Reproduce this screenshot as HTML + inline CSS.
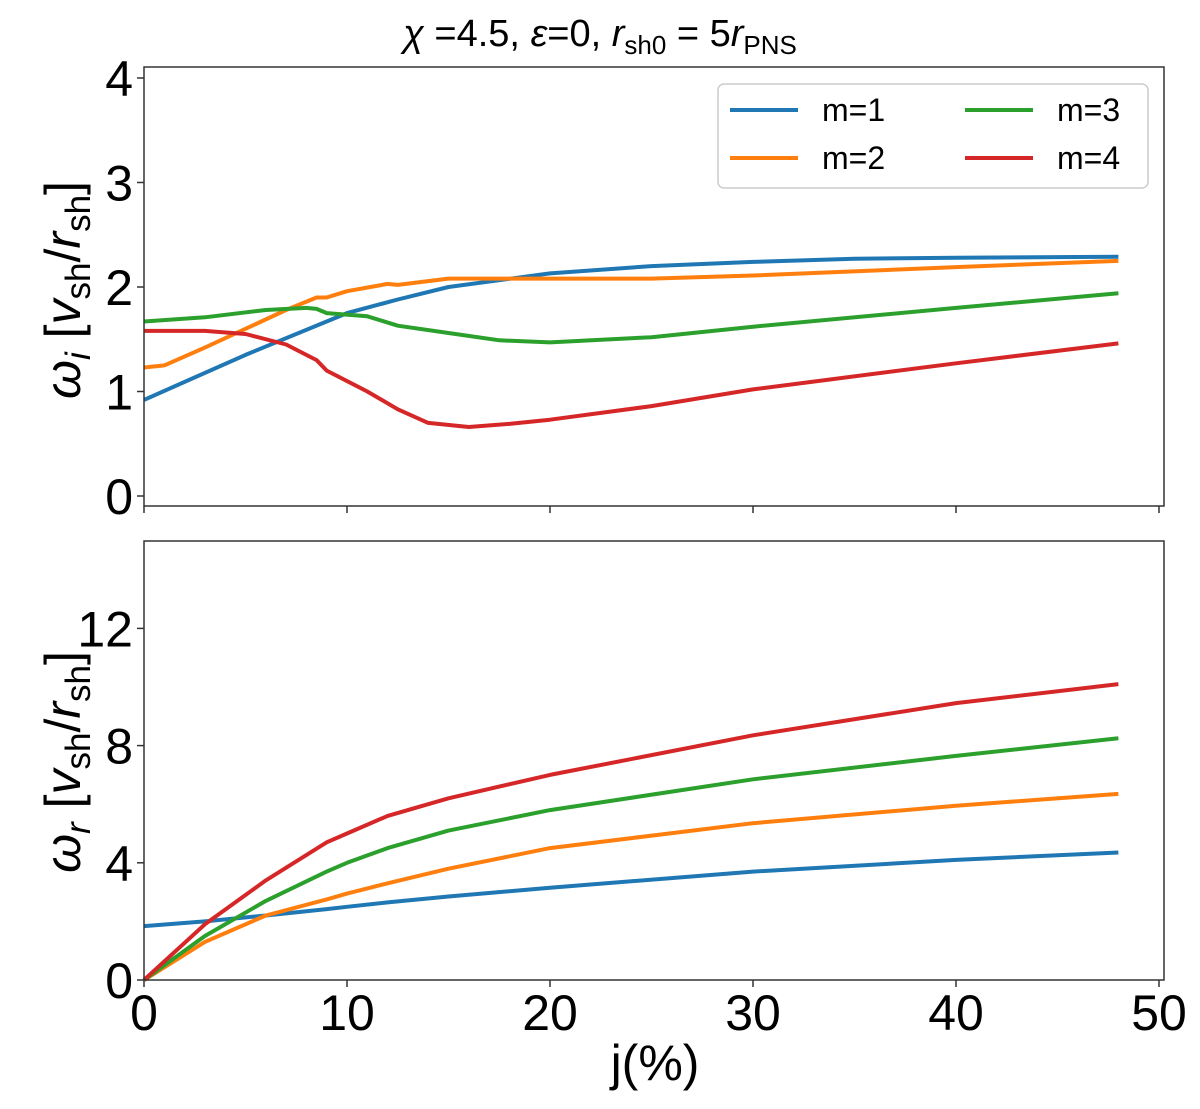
<!DOCTYPE html>
<html><head><meta charset="utf-8"><style>
body{margin:0;background:#fff}
svg{display:block;font-family:"Liberation Sans","DejaVu Sans",sans-serif}
</style></head><body>
<svg id="chart" width="1200" height="1109" viewBox="0 0 1200 1109">
<text x="600" y="46" font-size="38" text-anchor="middle"><tspan font-style="italic">χ</tspan> =4.5, <tspan font-style="italic">ε</tspan>=0, <tspan font-style="italic">r</tspan><tspan font-size="26" dy="8">sh0</tspan><tspan dy="-8"> = 5</tspan><tspan font-style="italic">r</tspan><tspan font-size="26" dy="8">PNS</tspan></text>
<g id="top"></g>
<g id="bot"></g>
<text x="655" y="1080" font-size="50" text-anchor="middle">j(%)</text>
<text transform="translate(80,290) rotate(-90)" font-size="50" text-anchor="middle"><tspan font-style="italic">ω</tspan><tspan font-style="italic" font-size="35" dy="10">i</tspan><tspan dy="-10"> [</tspan><tspan font-style="italic">v</tspan><tspan font-size="35" dy="10">sh</tspan><tspan dy="-10">/</tspan><tspan font-style="italic">r</tspan><tspan font-size="35" dy="10">sh</tspan><tspan dy="-10">]</tspan></text>
<text transform="translate(80,762) rotate(-90)" font-size="50" text-anchor="middle"><tspan font-style="italic">ω</tspan><tspan font-style="italic" font-size="35" dy="10">r</tspan><tspan dy="-10"> [</tspan><tspan font-style="italic">v</tspan><tspan font-size="35" dy="10">sh</tspan><tspan dy="-10">/</tspan><tspan font-style="italic">r</tspan><tspan font-size="35" dy="10">sh</tspan><tspan dy="-10">]</tspan></text>
</svg>
<script>
const xTicks=[0,10,20,30,40,50];
const topYTicks=[0,1,2,3,4];
const botYTicks=[0,4,8,12];
const seriesNames=["m=1","m=2","m=3","m=4"];
const colors=["#1f77b4","#ff7f0e","#2ca02c","#d62728"];
const topX1=[0,5,10,12.5,15,20,25,30,35,40,48];
const topY1=[0.92,1.35,1.75,1.88,2.0,2.13,2.2,2.24,2.27,2.28,2.29];
const topX2=[0,1,3,5,7,8.5,9,10,12,12.5,15,17.5,20,25,30,40,48];
const topY2=[1.23,1.25,1.42,1.6,1.78,1.9,1.9,1.96,2.03,2.02,2.08,2.08,2.08,2.08,2.11,2.19,2.25];
const topX3=[0,3,6,8,8.5,9,11,12.5,15,17.5,20,25,30,40,48];
const topY3=[1.67,1.71,1.78,1.8,1.79,1.75,1.72,1.63,1.56,1.49,1.47,1.52,1.62,1.8,1.94];
const topX4=[0,3,5,7,8.5,9,11,12.5,14,16,18,20,25,30,40,48];
const topY4=[1.58,1.58,1.55,1.45,1.3,1.2,1.0,0.83,0.7,0.66,0.69,0.73,0.86,1.02,1.27,1.46];
const botX=[0,3,6,9,10,12,15,20,30,40,48];
const botY1=[1.84,2.0,2.2,2.42,2.5,2.65,2.85,3.15,3.7,4.1,4.35];
const botY2=[0,1.3,2.2,2.75,2.95,3.3,3.8,4.5,5.35,5.95,6.35];
const botY3=[0,1.5,2.7,3.7,4.0,4.5,5.1,5.8,6.85,7.65,8.25];
const botY4=[0,1.9,3.4,4.7,5.0,5.6,6.2,7.0,8.35,9.45,10.1];

const NS="http://www.w3.org/2000/svg";
const L=144,R=1164;
const xs=v=>L+v*20.3;
function el(t,a,p){const e=document.createElementNS(NS,t);for(const k in a)e.setAttribute(k,a[k]);p.appendChild(e);return e;}
function panel(g,top,bot,ys,yTicks,showX,xArr,yArrs){
  yTicks.forEach(t=>{
    const tl=el('line',{x1:L-7,x2:L,y1:ys(t),y2:ys(t),stroke:'#333','stroke-width':1.5},g);
    
    
    const tx=el('text',{x:L-11,y:ys(t)+18,'font-size':50,'text-anchor':'end'},g);
    tx.textContent=t;
    
    
  });
  xTicks.forEach(t=>{
    const tl=el('line',{x1:xs(t),x2:xs(t),y1:bot,y2:bot+7,stroke:'#333','stroke-width':1.5},g);
    
    
    if(showX){
      const tx=el('text',{x:xs(t),y:bot+50,'font-size':50,'text-anchor':'middle'},g);
      tx.textContent=t;
      
      
    }
  });
  yArrs.forEach((ya,i)=>{
    const xa=Array.isArray(xArr[0])?xArr[i]:xArr;
    const pts=xa.map((x,k)=>xs(x).toFixed(1)+','+ys(ya[k]).toFixed(1)).join(' ');
    const pl=el('polyline',{points:pts,fill:'none',stroke:colors[i],'stroke-width':4,'stroke-linejoin':'round'},g);
    
    
  });
  const fr=el('rect',{x:L,y:top,width:R-L,height:bot-top,fill:'none',stroke:'#333','stroke-width':1.5},g);
  
  
}
const topG=document.getElementById('top'),botG=document.getElementById('bot');
panel(topG,67,506,v=>496-v*104.5,topYTicks,false,[topX1,topX2,topX3,topX4],[topY1,topY2,topY3,topY4]);
panel(botG,541,980,v=>980-v*29.3,botYTicks,true,botX,[botY1,botY2,botY3,botY4]);

const lg=el('g',{},topG);


el('rect',{x:718,y:84,width:430,height:104,rx:6,fill:'#fff',stroke:'#ccc','stroke-width':1.5},lg);
seriesNames.forEach((n,i)=>{
  const col=i<2?0:1,row=i%2;
  const x0=730+col*235,y0=110+row*48;
  const e=el('g',{},lg);
  
  
  el('line',{x1:x0,x2:x0+68,y1:y0,y2:y0,stroke:colors[i],'stroke-width':4},e);
  const t=el('text',{x:x0+92,y:y0+11,'font-size':32},e);
  t.textContent=n;
});
</script>
</body></html>
